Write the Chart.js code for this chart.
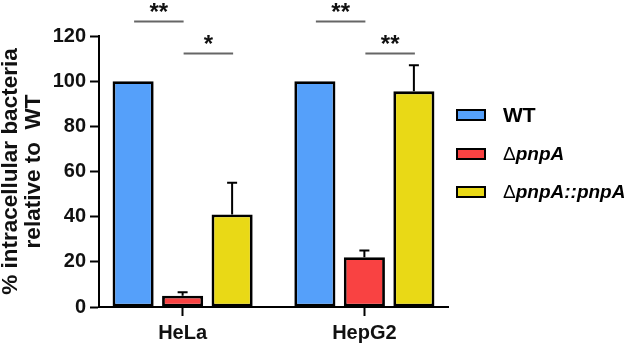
<!DOCTYPE html>
<html>
<head>
<meta charset="utf-8">
<script src="https://cdn.jsdelivr.net/npm/chart.js@4"></script>
<style>
  html, body { margin: 0; padding: 0; background: #fff; }
  #wrap { width: 630px; height: 345px; }
</style>
</head>
<body>
<div id="wrap"><canvas id="c" width="630" height="345"></canvas></div>
<script>
const categories = ['HeLa', 'HepG2'];
const seriesNames = ['WT', 'ΔpnpA', 'ΔpnpA::pnpA'];
const wtValues = [100, 100];
const mutValues = [5, 22];
const compValues = [41, 95.5];
const wtErr = [0, 0];
const mutErr = [1.5, 3];
const compErr = [14, 11.5];
const yTicks = [0, 20, 40, 60, 80, 100, 120];
// significance bars: level per pair (WT vs Δ, Δ vs complement), labels per category
const sigLevels = [126.5, 112.5];
const sigLabels = [['**', '*'], ['**', '**']];

const colors = ['#55a0fa', '#f94242', '#e9d916'];
const FONT = "Arial, 'Liberation Sans', Helvetica, sans-serif";

const errorBars = {
  id: 'errorBars',
  afterDatasetsDraw(chart) {
    const ctx = chart.ctx;
    const y = chart.scales.y;
    const errs = [wtErr, mutErr, compErr];
    const vals = [wtValues, mutValues, compValues];
    ctx.save();
    ctx.strokeStyle = '#000';
    ctx.lineWidth = 2;
    chart.data.datasets.forEach((ds, di) => {
      chart.getDatasetMeta(di).data.forEach((bar, i) => {
        if (!errs[di][i]) return;
        const top = y.getPixelForValue(vals[di][i] + errs[di][i]);
        ctx.beginPath();
        ctx.moveTo(bar.x, bar.y);
        ctx.lineTo(bar.x, top);
        ctx.moveTo(bar.x - 5, top);
        ctx.lineTo(bar.x + 5, top);
        ctx.stroke();
      });
    });
    ctx.restore();
  }
};

const sigMarks = {
  id: 'sigMarks',
  afterDraw(chart) {
    const ctx = chart.ctx;
    const y = chart.scales.y;
    ctx.save();
    categories.forEach((c, i) => {
      sigLabels[i].forEach((lab, k) => {
        const a = chart.getDatasetMeta(k).data[i];
        const b = chart.getDatasetMeta(k + 1).data[i];
        const ly = Math.round(y.getPixelForValue(sigLevels[k])) + 0.5;
        ctx.strokeStyle = '#666';
        ctx.lineWidth = 2;
        ctx.beginPath();
        ctx.moveTo(a.x + 1, ly);
        ctx.lineTo(b.x + 1, ly);
        ctx.stroke();
        ctx.fillStyle = '#111';
        ctx.font = 'bold 24px ' + FONT;
        ctx.textAlign = 'center';
        ctx.textBaseline = 'alphabetic';
        ctx.fillText(lab, (a.x + b.x) / 2 + 1, ly - 2);
      });
    });
    ctx.restore();
  }
};

const customLegend = {
  id: 'customLegend',
  afterDraw(chart) {
    const ctx = chart.ctx;
    const x0 = chart.chartArea.right + 9;
    const rows = [115, 154, 192];
    ctx.save();
    seriesNames.forEach((name, i) => {
      const cy = rows[i];
      ctx.fillStyle = colors[i];
      ctx.fillRect(x0, cy - 5, 28, 10);
      ctx.strokeStyle = '#000';
      ctx.lineWidth = 2;
      ctx.strokeRect(x0, cy - 5, 28, 10);
      let tx = x0 + 46;
      ctx.fillStyle = '#000';
      ctx.textBaseline = 'middle';
      ctx.textAlign = 'left';
      if (name.startsWith('Δ')) {
        ctx.font = '19px ' + FONT;
        ctx.fillText('Δ', tx, cy + 1);
        tx += ctx.measureText('Δ').width;
        ctx.font = 'italic bold 19px ' + FONT;
        ctx.fillText(name.slice(1), tx, cy + 1);
      } else {
        ctx.font = 'bold 21px ' + FONT;
        ctx.fillText(name, tx, cy + 1);
      }
    });
    ctx.restore();
  }
};

const toPoints = arr => arr.map((v, i) => ({ x: i, y: v }));

new Chart(document.getElementById('c'), {
  type: 'bar',
  data: {
    datasets: [
      { label: seriesNames[0], data: toPoints(wtValues), backgroundColor: colors[0] },
      { label: seriesNames[1], data: toPoints(mutValues), backgroundColor: colors[1] },
      { label: seriesNames[2], data: toPoints(compValues), backgroundColor: colors[2] }
    ].map(d => Object.assign(d, { borderColor: '#000', borderWidth: 2.8, borderSkipped: false }))
  },
  options: {
    responsive: false,
    animation: false,
    devicePixelRatio: 1,
    categoryPercentage: 0.817,
    barPercentage: 0.83,
    layout: { padding: { top: 36, right: 182, left: 0, bottom: 0 } },
    plugins: { legend: { display: false }, tooltip: { enabled: false } },
    scales: {
      x: {
        type: 'linear',
        offset: false,
        min: -0.46, max: 1.46,
        afterBuildTicks(s) { s.ticks = categories.map((c, i) => ({ value: i })); },
        grid: { offset: false, drawOnChartArea: false, tickLength: 9, tickWidth: 2, tickColor: '#000' },
        border: { color: '#000', width: 2 },
        ticks: {
          color: '#111', font: { family: FONT, size: 20, weight: 'bold' }, padding: 5,
          callback: v => categories[v]
        },
        afterFit(s) { s.height = 38; }
      },
      y: {
        min: 0, max: 120,
        afterBuildTicks(s) { s.ticks = yTicks.map(v => ({ value: v })); },
        grid: { drawOnChartArea: false, tickLength: 9, tickWidth: 2, tickColor: '#000' },
        border: { color: '#000', width: 2 },
        ticks: { color: '#111', font: { family: FONT, size: 20, weight: 'bold' }, padding: 4 },
        title: {
          display: true,
          text: ['% intracellular bacteria', 'relative to  WT'],
          color: '#111',
          font: { family: FONT, size: 22.5, weight: 'bold', lineHeight: 1.0 },
          padding: { top: 0, bottom: 0 }
        },
        afterFit(s) { s.width = 99; }
      }
    }
  },
  plugins: [errorBars, sigMarks, customLegend]
});
</script>
</body>
</html>
